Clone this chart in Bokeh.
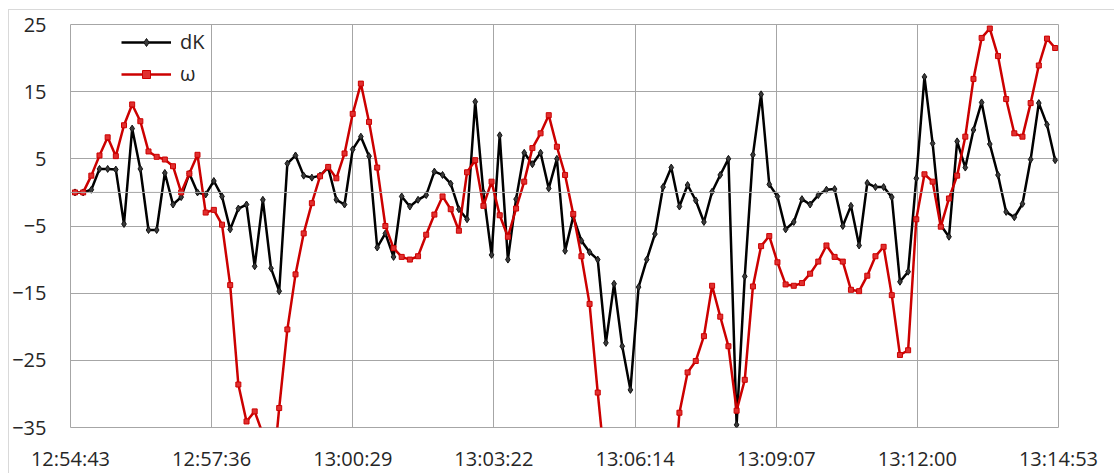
from bokeh.plotting import figure
from bokeh.models import ColumnDataSource, FixedTicker, Span, Legend, LegendItem, Range1d
from bokeh.embed import file_html
from bokeh.resources import INLINE

# ---- data ----
tick_labels = ["12:54:43", "12:57:36", "13:00:29", "13:03:22",
               "13:06:14", "13:09:07", "13:12:00", "13:14:53"]
tick_step_s = 172.8          # seconds between x tick labels
sample_start_s = 5.5         # first sample, seconds after 12:54:43
sample_step_s = 10.0         # sampling interval, seconds
y_ticks = [-35, -25, -15, -5, 5, 15, 25]

dK = [0.0, 0.0, 0.4, 3.5, 3.5, 3.4, -4.7, 9.5, 3.5, -5.6,
      -5.6, 2.9, -1.8, -0.7, 2.8, 0.0, -0.3, 1.7, -0.6, -5.5,
      -2.4, -1.8, -11.0, -1.1, -11.3, -14.7, 4.3, 5.5, 2.5, 2.2,
      2.5, 3.7, -1.1, -1.8, 6.4, 8.3, 5.4, -8.2, -6.1, -9.6,
      -0.6, -2.1, -1.1, -0.4, 3.1, 2.6, 1.3, -2.5, -4.0, 13.5,
      0.0, -9.3, 8.5, -10.0, -1.0, 5.9, 4.2, 5.9, 0.6, 5.0,
      -8.7, -3.6, -7.2, -8.9, -10.0, -22.4, -13.6, -22.9, -29.4, -14.1,
      -10.0, -6.2, 0.8, 3.7, -2.1, 1.1, -1.2, -4.4, 0.1, 2.6,
      5.0, -34.6, -12.5, 5.6, 14.6, 1.2, -0.6, -5.5, -4.4, -1.0,
      -1.8, -0.4, 0.4, 0.5, -5.0, -2.0, -7.9, 1.4, 0.8, 0.8,
      -0.7, -13.3, -11.8, 2.1, 17.2, 7.3, -4.9, -6.6, 7.6, 3.7,
      9.3, 13.4, 7.2, 2.6, -2.9, -3.7, -1.7, 4.9, 13.3, 10.1,
      4.8]

omega = [0.0, 0.0, 2.5, 5.5, 8.2, 5.4, 10.0, 13.1, 10.6, 6.1,
         5.3, 4.9, 3.9, 0.0, 2.8, 5.6, -3.0, -2.6, -4.8, -13.8,
         -28.6, -34.1, -32.6, -36.0, -45.0, -32.1, -20.4, -12.2, -6.1, -1.6,
         2.4, 3.8, 2.1, 5.8, 11.7, 16.2, 10.5, 3.7, -5.0, -8.3,
         -9.6, -10.0, -9.5, -6.3, -3.3, -0.6, -2.5, -5.7, 3.0, 4.8,
         -2.0, 1.6, -3.4, -6.6, -2.4, 1.6, 6.6, 8.8, 11.5, 6.8,
         2.6, -3.2, -9.5, -16.6, -29.8, -42.0, -45.0, -48.0, -50.0, -52.0,
         -52.0, -50.0, -50.0, -50.0, -32.8, -26.8, -25.1, -21.4, -13.9, -18.5,
         -22.9, -32.5, -27.9, -14.0, -8.0, -6.5, -10.4, -13.7, -13.9, -13.5,
         -12.1, -10.3, -7.9, -9.6, -10.3, -14.5, -14.7, -12.4, -9.5, -8.1,
         -15.3, -24.2, -23.5, -4.0, 2.7, 1.6, -5.1, -0.9, 2.5, 8.3,
         16.9, 23.0, 24.4, 20.3, 13.9, 8.8, 8.3, 13.3, 18.9, 22.9,
         21.5]

t = [sample_start_s + sample_step_s * i for i in range(len(dK))]
src = ColumnDataSource(dict(t=t, dK=dK, omega=omega))

FONT = "Open Sans"
GRID = "#a6a6a6"
RED = "#cc0000"
x_end = tick_step_s * (len(tick_labels) - 1)

p = figure(width=1106, height=464,
           x_range=Range1d(0, x_end), y_range=Range1d(-35, 25),
           output_backend="svg", toolbar_location=None,
           min_border_left=58, min_border_right=57,
           min_border_top=14, min_border_bottom=45)
p.margin = (9, 0, 0, 8)
p.styles = {"border-top": "1px solid #d9d9d9", "border-left": "1px solid #d9d9d9"}
p.background_fill_color = "white"
p.border_fill_color = "white"
p.outline_line_color = GRID
p.outline_line_width = 1

# axes
x_ticks = [tick_step_s * k for k in range(len(tick_labels))]
p.xaxis.ticker = FixedTicker(ticks=x_ticks)
p.xaxis.major_label_overrides = {x: lab for x, lab in zip(x_ticks, tick_labels)}
p.yaxis.ticker = FixedTicker(ticks=y_ticks)
for ax in (p.xaxis, p.yaxis):
    ax.axis_line_color = None
    ax.major_tick_line_color = None
    ax.minor_tick_line_color = None
    ax.major_tick_out = 0
    ax.major_tick_in = 0
    ax.major_label_text_font = FONT
    ax.major_label_text_font_size = "20px"
    ax.major_label_text_color = "#262626"
p.xaxis.major_label_standoff = 17
p.yaxis.major_label_standoff = 24

p.xgrid.ticker = FixedTicker(ticks=x_ticks)
p.ygrid.ticker = FixedTicker(ticks=y_ticks)
for g in (p.xgrid, p.ygrid):
    g.grid_line_color = GRID
    g.grid_line_width = 1

# horizontal axis line at zero
p.add_layout(Span(location=0, dimension="width", line_color=GRID, line_width=1))

# series
l1 = p.line("t", "dK", source=src, line_color="black", line_width=2.5)
m1 = p.scatter("t", "dK", source=src, marker="diamond", size=7,
               fill_color="#3a3a3a", line_color="#111111", line_width=1)
l2 = p.line("t", "omega", source=src, line_color=RED, line_width=2.5)
m2 = p.scatter("t", "omega", source=src, marker="square", size=5,
               fill_color="#e03030", line_color=RED, line_width=1)

legend = Legend(items=[LegendItem(label="dK", renderers=[l1, m1]),
                       LegendItem(label="ω", renderers=[l2, m2])],
                location=(47, 336))
legend.border_line_alpha = 0
legend.background_fill_alpha = 0
legend.glyph_width = 50
legend.glyph_height = 20
legend.label_height = 20
legend.spacing = 5
legend.padding = 4
legend.margin = 0
legend.label_standoff = 9
legend.label_text_font = FONT
legend.label_text_font_size = "20px"
legend.label_text_color = "#262626"
p.add_layout(legend, "center")

open("out.html", "w").write(file_html(p, INLINE))
